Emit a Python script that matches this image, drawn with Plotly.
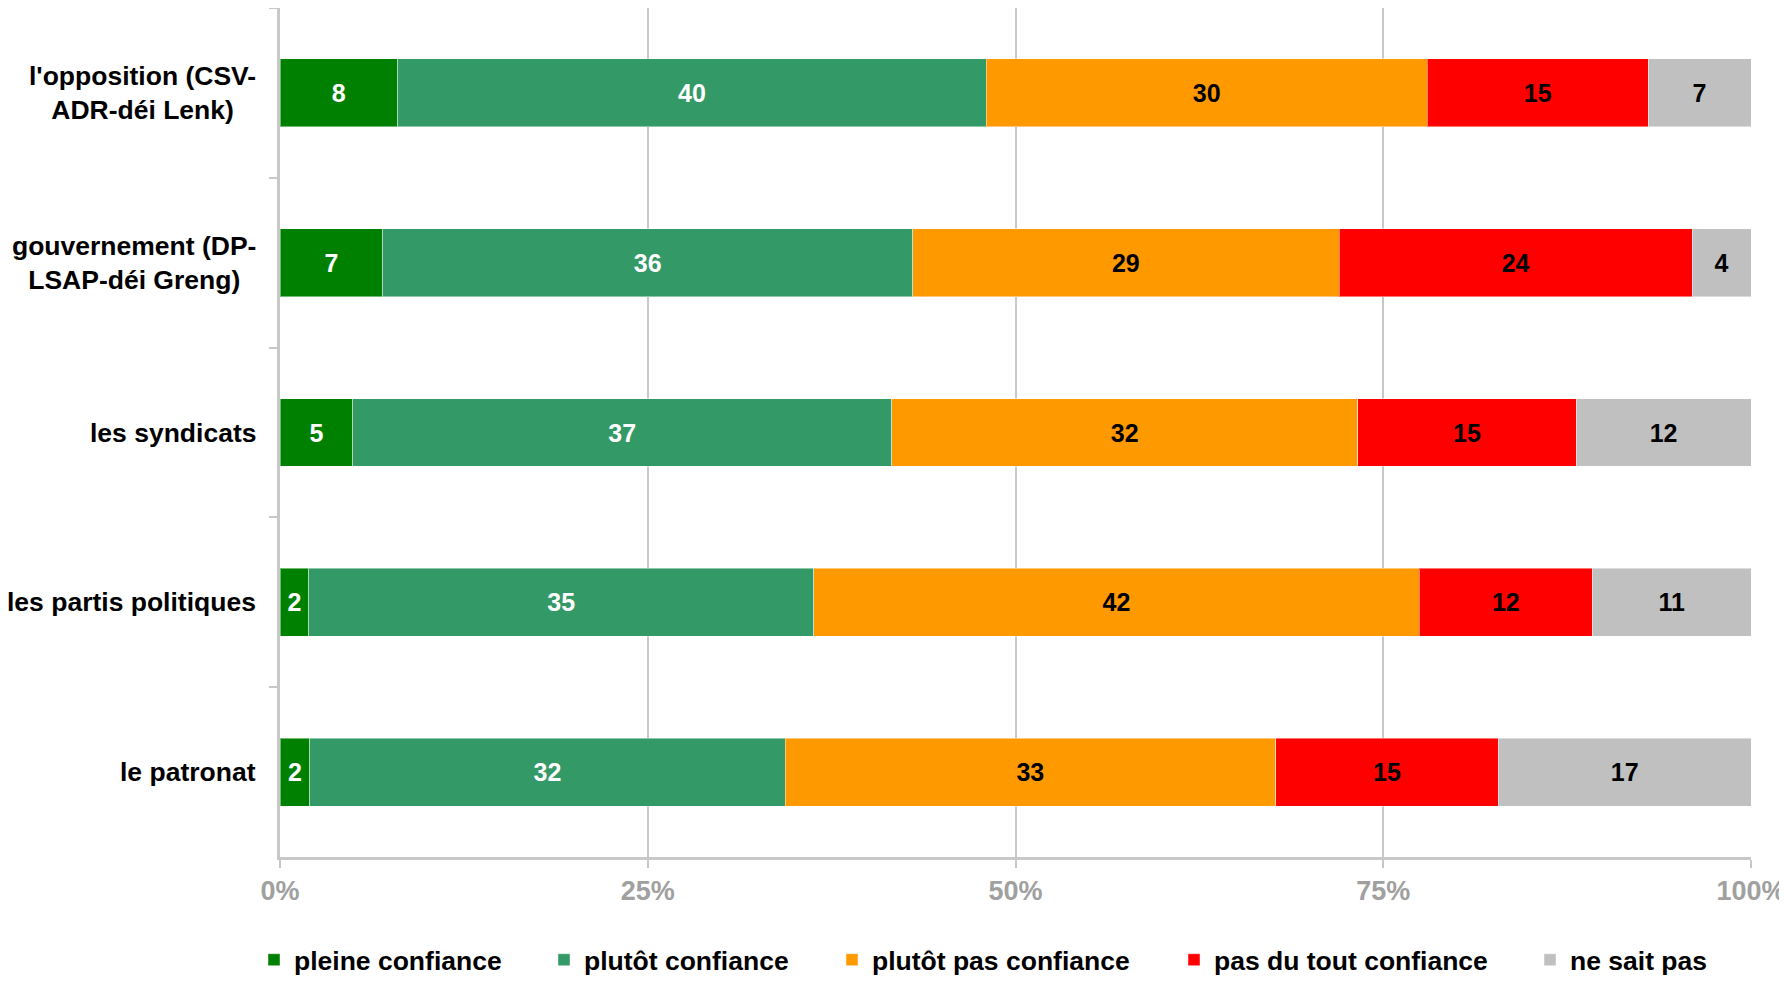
import plotly.graph_objects as go

categories = ["l'opposition (CSV-<br>ADR-déi Lenk)", "gouvernement (DP-<br>LSAP-déi Greng)",
              "les syndicats", "les partis politiques", "le patronat"]
series_names = ["pleine confiance", "plutôt confiance", "plutôt pas confiance",
                "pas du tout confiance", "ne sait pas"]
pleine = [8, 7, 5, 2, 2]
plutot = [40, 36, 37, 35, 32]
plutot_pas = [30, 29, 32, 42, 33]
pas_du_tout = [15, 24, 15, 12, 15]
ne_sait_pas = [7, 4, 12, 11, 17]
tick_vals = [0, 25, 50, 75, 100]
tick_text = ["0%", "25%", "50%", "75%", "100%"]

colors = ["#008000", "#339966", "#FF9900", "#FF0000", "#C0C0C0"]
text_colors = ["white", "white", "black", "black", "black"]
all_series = [pleine, plutot, plutot_pas, pas_du_tout, ne_sait_pas]
legend_left_px = [268, 558, 846, 1188, 1544]  # page x of each legend symbol

FONT = "Liberation Sans, Arial, sans-serif"
W, H = 1779, 973  # page has 8px body margin

fig = go.Figure()
legend_layouts = {}
for i, (name, vals, col, tcol) in enumerate(zip(series_names, all_series, colors, text_colors)):
    lname = "legend" if i == 0 else f"legend{i+1}"
    fig.add_trace(go.Bar(
        y=categories, x=vals, name=name, orientation="h", legend=lname,
        marker=dict(color=col, line=dict(color="rgba(255,255,255,0.45)", width=1)),
        text=vals, textposition="inside", insidetextanchor="middle", textangle=0,
        textfont=dict(family=FONT, size=25, color=tcol, weight="bold"),
        constraintext="none", hoverinfo="skip",
    ))
    legend_layouts[lname] = dict(
        orientation="h", xref="container", yref="container",
        x=(legend_left_px[i] - 8 - 14) / W, xanchor="left",
        y=(H - 952) / H, yanchor="middle",
        bgcolor="rgba(0,0,0,0)",
        font=dict(family=FONT, size=26.5, color="black", weight="bold"),
        itemwidth=30,
    )

annotations = []
for c in categories:
    annotations.append(dict(
        xref="paper", yref="y", x=0, y=c, xanchor="right", yanchor="middle",
        xshift=-22, text=c, showarrow=False, align="center",
        font=dict(family=FONT, size=26.5, color="black", weight="bold"),
    ))

fig.update_layout(
    width=W, height=H,
    barmode="stack", barnorm="percent", bargap=0.6,
    plot_bgcolor="white", paper_bgcolor="white",
    margin=dict(l=272, r=36, t=0, b=124, autoexpand=False),
    showlegend=True,
    annotations=annotations,
    xaxis=dict(range=[0, 100], tickvals=tick_vals, ticktext=tick_text,
               showgrid=True, gridcolor="#C8C8C8", gridwidth=2,
               showline=True, linecolor="#C8C8C8", linewidth=3,
               ticks="outside", ticklen=8, tickcolor="#C8C8C8", tickwidth=2,
               zeroline=False,
               tickfont=dict(family=FONT, size=27, color="#A0A0A0", weight="bold")),
    yaxis=dict(autorange="reversed", showticklabels=False,
               showline=True, linecolor="#C8C8C8", linewidth=3,
               ticks="outside", tickson="boundaries", ticklen=8,
               tickcolor="#C8C8C8", tickwidth=2, showgrid=False),
    **legend_layouts,
)

fig.write_html("out.html")
